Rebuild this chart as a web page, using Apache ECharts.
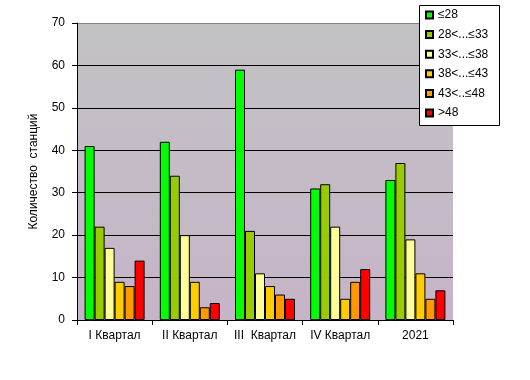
<!DOCTYPE html>
<html><head><meta charset="utf-8">
<script src="https://cdn.jsdelivr.net/npm/echarts@6/dist/echarts.min.js"></script>
<style>html,body{margin:0;padding:0;background:#fff}#c{width:530px;height:380px}</style>
</head><body><div id="c"></div>
<script>
const categories = ['I Квартал', 'II Квартал', 'III  Квартал', 'IV Квартал', '2021'];
const seriesNames = ['≤28', '28<...≤33', '33<...≤38', '38<...≤43', '43<..≤48', '>48'];
const seriesColors = ['#00ff00', '#99cc00', '#ffff99', '#ffcc00', '#ff9900', '#ff0000'];
const s1 = [41, 42, 59, 31, 33];
const s2 = [22, 34, 21, 32, 37];
const s3 = [17, 20, 11, 22, 19];
const s4 = [9, 9, 8, 5, 11];
const s5 = [8, 3, 6, 9, 5];
const s6 = [14, 4, 5, 12, 7];
const yTicks = [0, 10, 20, 30, 40, 50, 60, 70];
const yTitle = 'Количество  станций';

const allValues = [s1, s2, s3, s4, s5, s6];
const font = 'Liberation Sans, Arial, sans-serif';
const chart = echarts.init(document.getElementById('c'), null, {renderer: 'canvas'});
chart.setOption({
  animation: false,
  backgroundColor: '#ffffff',
  graphic: [{
    type: 'rect', left: 419, top: 5, z: 3,
    shape: {width: 80, height: 120},
    style: {fill: '#ffffff', stroke: '#000000', lineWidth: 1}
  }],
  legend: {
    orient: 'vertical', left: 425, top: 9, z: 5,
    padding: 0, itemGap: 7.6, itemWidth: 7, itemHeight: 7,
    icon: 'rect',
    textStyle: {fontSize: 12, fontFamily: font, color: '#000'},
    data: seriesNames
  },
  grid: {
    left: 77, right: 77, top: 23, bottom: 60, show: true,
    borderWidth: 0,
    backgroundColor: new echarts.graphic.LinearGradient(0, 0, 0, 1, [
      {offset: 0, color: '#c2c2c4'},
      {offset: 1, color: '#c6b4c8'}
    ])
  },
  xAxis: {
    type: 'category', data: categories,
    axisLine: {lineStyle: {color: '#000', width: 1}},
    axisTick: {show: true, length: 5, alignWithLabel: false, lineStyle: {color: '#000'}},
    axisLabel: {interval: 0, fontSize: 12, fontFamily: font, color: '#000', margin: 10}
  },
  yAxis: {
    type: 'value', min: yTicks[0], max: yTicks[yTicks.length - 1], interval: 10,
    name: yTitle, nameLocation: 'middle', nameRotate: 90, nameGap: 37,
    nameTextStyle: {fontSize: 12, fontFamily: font, color: '#000'},
    axisLine: {show: true, lineStyle: {color: '#000', width: 1}},
    axisTick: {show: true, length: 5, lineStyle: {color: '#000'}},
    axisLabel: {fontSize: 12, fontFamily: font, color: '#000', margin: 12},
    splitLine: {show: true, lineStyle: {color: ['#000', '#000', '#000', '#000', '#000', '#000', '#000', '#808080'], width: 1}}
  },
  series: seriesNames.map((n, i) => ({
    type: 'bar', name: n, data: allValues[i],
    barWidth: 10, barGap: '0%',
    itemStyle: {color: seriesColors[i], borderColor: '#000', borderWidth: 1}
  }))
});
</script></body></html>
